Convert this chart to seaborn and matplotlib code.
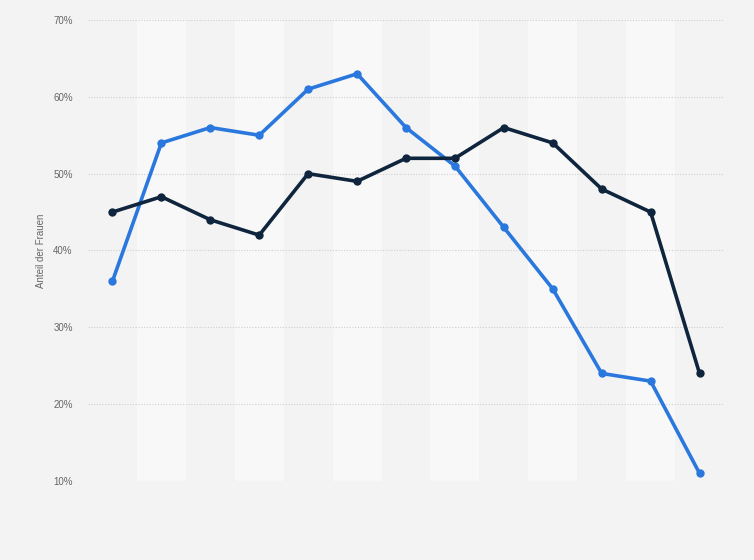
import pandas as pd
import matplotlib
matplotlib.use('Agg')
import matplotlib.pyplot as plt
import seaborn as sns

# Values (share of women in %), 13 points, no x labels shown
positions = list(range(13))
series_blue = [36, 54, 56, 55, 61, 63, 56, 51, 43, 35, 24, 23, 11]
series_dark = [45, 47, 44, 42, 50, 49, 52, 52, 56, 54, 48, 45, 24]
y_ticks = [10, 20, 30, 40, 50, 60, 70]

df = pd.DataFrame({
    'pos': positions * 2,
    'value': series_blue + series_dark,
    'series': ['blue'] * len(series_blue) + ['dark'] * len(series_dark),
})

sns.set_style('white')
plt.rcParams['font.family'] = ['Liberation Sans', 'DejaVu Sans']

bg = '#f3f3f3'
fig = plt.figure(figsize=(7.54, 5.60), dpi=100, facecolor=bg)
ax = fig.add_axes([88 / 754, 1 - 481 / 560, (724 - 88) / 754, (481 - 20) / 560])
ax.set_facecolor(bg)

# alternating light column bands
for i in positions:
    if i % 2 == 1:
        ax.axvspan(i - 0.5, i + 0.5, color='#f8f8f8', zorder=0, lw=0)

sns.lineplot(data=df, x='pos', y='value', hue='series',
             palette={'blue': '#2a78de', 'dark': '#0f243d'},
             marker='o', markersize=6, markeredgewidth=0,
             linewidth=2.6, legend=False, ax=ax, zorder=3)

ax.set_xlim(-0.5, 12.5)
ax.set_ylim(10, 70)
ax.set_yticks(y_ticks)
ax.set_yticklabels([f'{v}%' for v in y_ticks], fontsize=7, color='#666666')
ax.set_xticks([])
ax.tick_params(axis='y', length=0, pad=11)
ax.yaxis.grid(True, color='#cfcfcf', linestyle=(0, (1, 1.5)), linewidth=0.8)
ax.set_axisbelow(True)
for s in ax.spines.values():
    s.set_visible(False)

ax.set_xlabel('')
ax.set_ylabel('Anteil der Frauen', fontsize=7, color='#666666', labelpad=5)

fig.savefig('out.png', dpi=100, facecolor=bg)
